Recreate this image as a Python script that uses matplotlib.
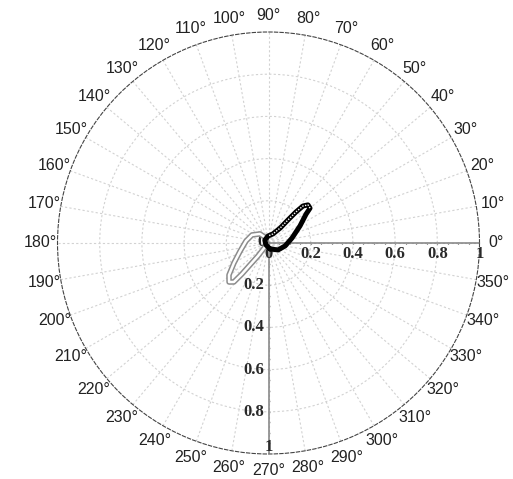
import numpy as np
import matplotlib.pyplot as plt

# black lobe (angle in degrees, radius), traced around the loop
black_deg = [-76, -36, -10, 12, 28.5, 37.6, 40, 44, 47, 48.5, 49.8, 52, 64, 94, 141, 217, -76]
black_r = [0.029, 0.056, 0.080, 0.114, 0.170, 0.225, 0.257, 0.260, 0.240, 0.196, 0.143, 0.090, 0.048, 0.033, 0.022, 0.015, 0.029]
# index where the lighter (hollow) upper branch starts / ends
black_upper = slice(6, 14)

# grey lobe
grey_deg = [117, 133, 154, 175, 196, 210, 219, 224.7, 228.4, 229.4, 229.8, 231, 229, 216, 117]
grey_r = [0.027, 0.059, 0.087, 0.107, 0.140, 0.189, 0.241, 0.263, 0.247, 0.193, 0.136, 0.079, 0.032, 0.009, 0.027]

r_ticks = [0.2, 0.4, 0.6, 0.8]
r_ticklabels = ['0.2', '0.4', '0.6', '0.8', '1']
angle_labels = list(range(0, 360, 10))

fig = plt.figure(figsize=(5.13, 4.79), dpi=100)
ax = fig.add_axes([0.1121, 0.0522, 0.8226, 0.881], projection='polar')
ax.set_theta_zero_location('E')
ax.set_ylim(0, 1)

ax.set_xticks(np.deg2rad(angle_labels))
ax.set_xticklabels([])
ax.set_yticks(r_ticks)
ax.set_yticklabels([])
ax.tick_params(length=0)
ax.grid(color='#d2d2d2', ls=(0, (2, 2)), lw=0.8)
ax.spines['polar'].set_linestyle((0, (3, 2)))
ax.spines['polar'].set_color('#444444')
ax.spines['polar'].set_linewidth(0.8)

# angle labels
for a in angle_labels:
    ax.text(np.deg2rad(a), 1.08, f'{a}°', ha='center', va='center',
            fontsize=11.5, family='Liberation Sans', color='#222222')

# the two solid axes (0 deg and 270 deg)
ax.plot([0, 0], [0, 1], color='#808080', lw=1.1, zorder=3)
ax.plot([1.5 * np.pi, 1.5 * np.pi], [0, 1], color='#808080', lw=1.1, zorder=3)
minor = np.arange(0.05, 1.0, 0.05)
ax.plot(np.zeros_like(minor), minor, ls='none', marker='|', ms=2, color='#999999', zorder=3)
ax.plot(np.full_like(minor, 1.5 * np.pi), minor, ls='none', marker='_', ms=2, color='#999999', zorder=3)

# radial tick labels along both axes
tfont = dict(family='Liberation Serif', weight='bold', fontsize=12, color='#2a2a2a')
for v, s in zip(r_ticks + [1.0], r_ticklabels):
    ax.annotate(s, (0, v), xytext=(0, -2), textcoords='offset points',
                ha='center', va='top', **tfont)
    if v < 1:
        ax.annotate(s, (1.5 * np.pi, v), xytext=(-3, 0), textcoords='offset points',
                    ha='right', va='center', **tfont)
    else:
        ax.annotate(s, (1.5 * np.pi, v), xytext=(0, -1), textcoords='offset points',
                    ha='center', va='bottom', **tfont)
ax.annotate('0', (0, 0), xytext=(-2, 1), textcoords='offset points',
            ha='right', va='center', **tfont)
ax.annotate('0', (0, 0), xytext=(0, -2), textcoords='offset points',
            ha='center', va='top', **tfont)

# grey lobe: hollow chain look
gt = np.deg2rad(grey_deg)
ax.plot(gt, grey_r, color='#8c8c8c', lw=4, solid_capstyle='round', zorder=4)
ax.plot(gt, grey_r, color='white', lw=1.8, solid_capstyle='round', zorder=4)

# black lobe
bt = np.deg2rad(black_deg)
ax.plot(bt, black_r, color='black', lw=3.6, solid_capstyle='round', zorder=5)
ax.plot(bt[black_upper], np.array(black_r)[black_upper], color='white',
        lw=1.0, ls=(0, (1, 1)), zorder=5)

fig.savefig('out.png', dpi=100)
